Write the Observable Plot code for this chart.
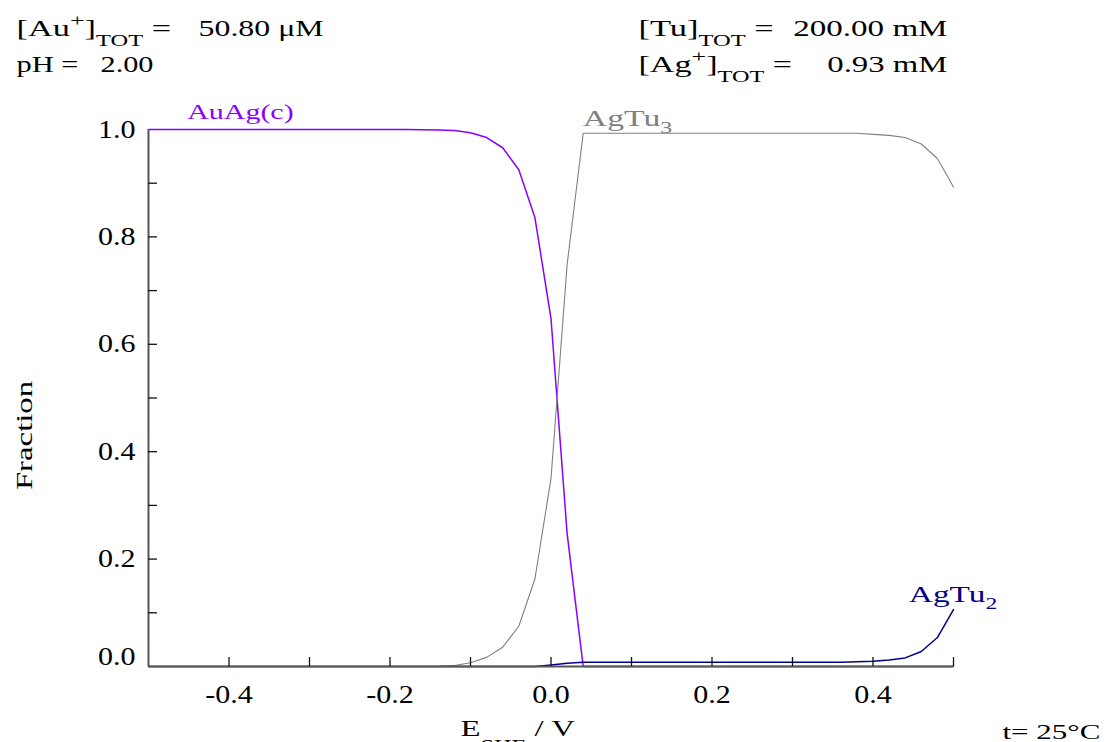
<!DOCTYPE html>
<html><head><meta charset="utf-8">
<script src="https://cdn.jsdelivr.net/npm/d3@7"></script>
<script src="https://cdn.jsdelivr.net/npm/@observablehq/plot@0.6"></script>
<style>body{margin:0;background:#fff;overflow:hidden}</style>
</head><body><div id="chart"></div>
<script>
// Potential E_SHE / V
const potential = [-0.50,-0.48,-0.46,-0.44,-0.42,-0.40,-0.38,-0.36,-0.34,-0.32,-0.30,-0.28,-0.26,-0.24,-0.22,-0.20,-0.18,-0.16,-0.14,-0.12,-0.10,-0.08,-0.06,-0.04,-0.02,0.00,0.02,0.04,0.06,0.08,0.10,0.12,0.14,0.16,0.18,0.20,0.22,0.24,0.26,0.28,0.30,0.32,0.34,0.36,0.38,0.40,0.42,0.44,0.46,0.48,0.50];
// Fractions
const auag = [1.0,1.0,1.0,1.0,1.0,1.0,1.0,1.0,1.0,1.0,1.0,1.0,1.0,1.0,1.0,1.0,0.9998,0.9995,0.999,0.998,0.994,0.985,0.966,0.925,0.836,0.648,0.248,0,0,0,0,0,0,0,0,0,0,0,0,0,0,0,0,0,0,0,0,0,0,0,0];
const agtu3 = [0,0,0,0,0,0,0,0,0,0,0,0,0,0,0,0,0,0,0.0005,0.002,0.007,0.017,0.036,0.075,0.163,0.350,0.748,0.993,0.993,0.993,0.993,0.993,0.993,0.993,0.993,0.993,0.993,0.993,0.993,0.993,0.993,0.993,0.993,0.993,0.993,0.991,0.989,0.985,0.973,0.946,0.893];
const agtu2 = [0,0,0,0,0,0,0,0,0,0,0,0,0,0,0,0,0,0,0,0,0,0,0,0,0,0.003,0.006,0.008,0.008,0.008,0.008,0.008,0.008,0.008,0.008,0.008,0.008,0.008,0.008,0.008,0.008,0.008,0.008,0.008,0.009,0.010,0.012,0.016,0.028,0.054,0.106];
const speciesNames = ["AuAg(c)", "AgTu_{3}", "AgTu_{2}"];
const speciesColors = ["#8800ff", "#808080", "#000088"];
const speciesWidths = [1.5, 1.1, 1.5];
const labelE = [-0.452, 0.0395, 0.4445];
const labelF = [1.0199, 1.0074, 0.1197];
const xLabelTicks = [-0.4, -0.2, 0.0, 0.2, 0.4];
const xMinorTicks = [-0.4, -0.3, -0.2, -0.1, 0.0, 0.1, 0.2, 0.3, 0.4, 0.5];
const yLabelTicks = [0.2, 0.4, 0.6, 0.8, 1.0];
const yMinorTicks = [0.1, 0.2, 0.3, 0.4, 0.5, 0.6, 0.7, 0.8, 0.9];

const seriesValues = [auag, agtu3, agtu2];
const rows = speciesNames.flatMap((name, k) => potential.map((e, i) => ({E: e, f: seriesValues[k][i], species: name})));
const labels = speciesNames.map((name, k) => ({name, E: labelE[k], f: labelF[k], color: speciesColors[k]}));

const W = 1106, H = 742, ML = 148, MR = 153, MT = 129, MB = 76;
const FW = W - ML - MR, FH = H - MT - MB;
const fmt = d => d.toFixed(1);

const T = (txt, anchor, dx, dy, opts = {}) =>
  Plot.text([txt], {text: d => d, frameAnchor: anchor, dx, dy, lineAnchor: "bottom", fill: "#000", ...opts});

const svg = Plot.plot({
  width: W, height: H,
  marginLeft: ML, marginRight: MR, marginTop: MT, marginBottom: MB,
  x: {domain: [-0.5, 0.5], axis: null},
  y: {domain: [0, 1], axis: null},
  style: {fontFamily: "'Liberation Serif', 'Times New Roman', serif", fontSize: "25px", background: "#fff", color: "#000"},
  marks: [
    ...speciesNames.map((name, k) =>
      Plot.line(rows.filter(r => r.species === name), {x: "E", y: "f", stroke: speciesColors[k], strokeWidth: speciesWidths[k]})),
    Plot.ruleY([0], {stroke: "#555", strokeWidth: 2}),
    Plot.ruleX([-0.5], {stroke: "#555", strokeWidth: 2}),
    Plot.ruleX(xMinorTicks, {insetTop: FH - 9, stroke: "#111", strokeWidth: 1.3}),
    Plot.ruleY(yMinorTicks, {insetRight: FW - 9, stroke: "#111", strokeWidth: 1.3}),
    Plot.text(xLabelTicks, {x: d => d, frameAnchor: "bottom", text: fmt, lineAnchor: "top", dy: 19, fill: "#000"}),
    Plot.text(yLabelTicks, {y: d => d, frameAnchor: "left", text: fmt, textAnchor: "end", lineAnchor: "middle", dx: -13, fill: "#000"}),
    Plot.text([0], {y: d => d, frameAnchor: "left", text: fmt, textAnchor: "end", lineAnchor: "middle", dx: -13, dy: -10, fill: "#000"}),
    ...labels.map(l => Plot.text([l], {x: "E", y: "f", text: "name", textAnchor: "start", lineAnchor: "bottom", fill: l.color})),
    T("[Au^{+}]_{TOT} =", "top-left", -132, -94, {textAnchor: "start"}),
    T("50.80 μM", "top-left", 175, -94, {textAnchor: "end"}),
    T("pH =", "top-left", -132, -57.3, {textAnchor: "start"}),
    T("2.00", "top-left", 5, -57.3, {textAnchor: "end"}),
    T("[Tu]_{TOT} =", "top-left", 490, -94, {textAnchor: "start"}),
    T("200.00 mM", "top-left", 799, -94, {textAnchor: "end"}),
    T("[Ag^{+}]_{TOT} =", "top-left", 490, -57.5, {textAnchor: "start"}),
    T("0.93 mM", "top-left", 799, -57.5, {textAnchor: "end"}),
    T("Fraction", "left", -117, 37.5, {textAnchor: "middle", rotate: -90}),
    T("E_{SHE} / V", "bottom-left", 312, 69, {textAnchor: "start"}),
    T("t= 25°C", "bottom-right", 49, 72, {textAnchor: "start"})
  ]
});
document.getElementById("chart").append(svg);

const hdr = {size: 22.5, sub: [16, 10], sup: [17, -10]};
const textSpecs = {
  "[Au^{+}]_{TOT} =": {...hdr, w: 154.7},
  "50.80 μM": {...hdr, w: 125},
  "pH =": {...hdr, w: 62},
  "2.00": {...hdr, w: 53},
  "[Tu]_{TOT} =": {...hdr, w: 135.3},
  "200.00 mM": {...hdr, w: 154.3},
  "[Ag^{+}]_{TOT} =": {...hdr, w: 153.7},
  "0.93 mM": {...hdr, w: 120.3},
  "AuAg(c)": {size: 22, w: 106.6},
  "AgTu_{3}": {size: 24, w: 89.4, sub: [17, 7]},
  "AgTu_{2}": {size: 24, w: 88.4, sub: [17, 7]},
  "Fraction": {size: 23, w: 110},
  "E_{SHE} / V": {size: 23, w: 115, sub: [17, 15]},
  "t= 25°C": {size: 22, w: 98}
};
const NS = "http://www.w3.org/2000/svg";
svg.querySelectorAll("text").forEach(t => {
  const raw = t.textContent;
  const spec = textSpecs[raw];
  if (spec) {
    if (spec.size) t.setAttribute("font-size", spec.size);
    if (/[\^_]\{/.test(raw)) {
      while (t.firstChild) t.removeChild(t.firstChild);
      let cur = 0;
      raw.split(/(\^\{[^}]*\}|_\{[^}]*\})/).filter(s => s).forEach(part => {
        const ts = document.createElementNS(NS, "tspan");
        let off = 0, txt = part, fs = null;
        if (part.startsWith("^{")) { off = spec.sup[1]; fs = spec.sup[0]; txt = part.slice(2, -1); }
        else if (part.startsWith("_{")) { off = spec.sub[1]; fs = spec.sub[0]; txt = part.slice(2, -1); }
        if (off !== cur) ts.setAttribute("dy", off - cur);
        cur = off;
        if (fs) ts.setAttribute("font-size", fs);
        ts.textContent = txt;
        t.appendChild(ts);
      });
    }
  }
  const bb = t.getBBox();
  const sx = spec && spec.w && bb.width > 0 ? spec.w / bb.width : 1.2;
  const tr = t.getAttribute("transform") || "";
  const x = +t.getAttribute("x") || 0;
  t.setAttribute("transform", `${tr} translate(${x},0) scale(${sx},1) translate(${-x},0)`);
});
</script>
</body></html>
